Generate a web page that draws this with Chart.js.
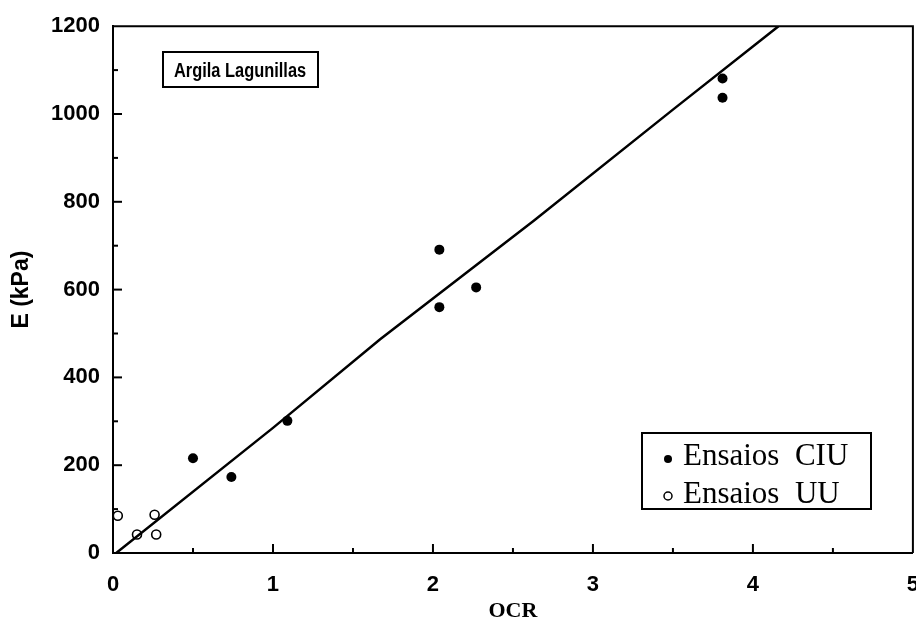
<!DOCTYPE html>
<html>
<head>
<meta charset="utf-8">
<script src="https://cdn.jsdelivr.net/npm/chart.js@4.4.1/dist/chart.umd.min.js"></script>
<style>
  html, body { margin: 0; padding: 0; background: #fff; overflow: hidden; }
  /* a bit wider than the window so the "5" label can hang off the edge */
  #wrap { width: 919px; height: 630px; }
</style>
</head>
<body>
<div id="wrap"><canvas id="chart"></canvas></div>
<script>
// data
const ciuOCR = [0.50, 0.74, 1.09, 2.04, 2.04, 2.27, 3.81, 3.81];
const ciuE   = [216, 173, 301, 691, 560, 605, 1081, 1037];
const uuOCR  = [0.03, 0.15, 0.26, 0.27];
const uuE    = [85, 42, 87, 42];
const fitOCR = [0.02, 1.00, 1.67, 2.63, 3.50, 4.16];
const fitE   = [0, 285, 487, 757, 1010, 1200];

const xTicks = [0, 1, 2, 3, 4, 5];
const yTicks = [0, 200, 400, 600, 800, 1000, 1200];

const toXY = (xs, ys) => xs.map((x, i) => ({ x: x, y: ys[i] }));

// inner tick marks, box frame, label box and legend
const decor = {
    id: 'decor',
    afterDraw(chart) {
        const c = chart.ctx;
        const a = chart.chartArea;
        const xs = chart.scales.x, ys = chart.scales.y;
        c.save();
        c.strokeStyle = '#000';
        c.lineWidth = 2;
        // top + right frame
        c.beginPath();
        c.moveTo(a.left, a.top); c.lineTo(a.right, a.top); c.lineTo(a.right, a.bottom);
        c.stroke();

        // ticks pointing inward
        for (let v = 0.5; v < 5; v += 0.5) {
            const px = xs.getPixelForValue(v);
            const len = Number.isInteger(v) ? 9 : 5;
            c.beginPath(); c.moveTo(px, a.bottom); c.lineTo(px, a.bottom - len); c.stroke();
        }
        for (let v = 100; v < 1200; v += 100) {
            const py = ys.getPixelForValue(v);
            const len = v % 200 === 0 ? 9 : 5;
            c.beginPath(); c.moveTo(a.left, py); c.lineTo(a.left + len, py); c.stroke();
        }

        // "Argila Lagunillas" box
        c.strokeRect(163, 52, 155, 35);
        c.fillStyle = '#000';
        c.font = 'bold 20px "Liberation Sans", Arial, sans-serif';
        c.textBaseline = 'alphabetic';
        c.textAlign = 'left';
        c.save();
        c.translate(174, 77);
        c.scale(0.82, 1);
        c.fillText('Argila Lagunillas', 0, 0);
        c.restore();

        // legend
        c.strokeRect(642, 433, 229, 76);
        c.font = '31px "Liberation Serif", "Times New Roman", serif';
        c.fillText('Ensaios  CIU', 683, 465);
        c.fillText('Ensaios  UU', 683, 503);
        c.beginPath(); c.arc(668, 459, 4, 0, Math.PI * 2); c.fill();
        c.lineWidth = 1.5;
        c.beginPath(); c.arc(668, 496, 4, 0, Math.PI * 2); c.stroke();
        c.restore();
    }
};

new Chart(document.getElementById('chart'), {
    type: 'scatter',
    data: {
        datasets: [
            {
                label: 'Ajuste',
                type: 'line',
                data: toXY(fitOCR, fitE),
                borderColor: '#000',
                borderWidth: 2.5,
                pointRadius: 0,
                fill: false,
                tension: 0
            },
            {
                label: 'Ensaios CIU',
                data: toXY(ciuOCR, ciuE),
                pointRadius: 5,
                backgroundColor: '#000',
                borderColor: '#000',
                borderWidth: 0
            },
            {
                label: 'Ensaios UU',
                data: toXY(uuOCR, uuE),
                pointRadius: 4.5,
                backgroundColor: 'rgba(0,0,0,0)',
                borderColor: '#000',
                borderWidth: 1.6
            }
        ]
    },
    options: {
        responsive: true,
        maintainAspectRatio: false,
        animation: false,
        events: [],
        layout: { padding: { left: 0, top: 25, right: 0, bottom: 0 } },
        plugins: { legend: { display: false }, tooltip: { enabled: false } },
        scales: {
            x: {
                type: 'linear',
                min: 0, max: 5,
                afterBuildTicks: s => { s.ticks = xTicks.map(v => ({ value: v })); },
                afterFit: s => { s.height = 77; s.paddingLeft = 0; s.paddingRight = 0; },
                grid: { display: false, drawTicks: false },
                border: { display: true, color: '#000', width: 2 },
                ticks: {
                    color: '#000',
                    padding: 19,
                    callback: v => String(v),
                    font: { family: '"Liberation Sans", Arial, sans-serif', size: 22, weight: 'bold' }
                },
                title: {
                    display: true,
                    text: 'OCR',
                    color: '#000',
                    padding: { top: 0, bottom: 5 },
                    font: { family: '"Liberation Serif", "Times New Roman", serif', size: 22, weight: 'bold' }
                }
            },
            y: {
                type: 'linear',
                min: 0, max: 1200,
                afterBuildTicks: s => { s.ticks = yTicks.map(v => ({ value: v })); },
                afterFit: s => { s.width = 113; },
                grid: { display: false, drawTicks: false },
                border: { display: true, color: '#000', width: 2 },
                ticks: {
                    color: '#000',
                    padding: 13,
                    callback: v => String(v),
                    font: { family: '"Liberation Sans", Arial, sans-serif', size: 22, weight: 'bold' }
                },
                title: {
                    display: true,
                    text: 'E (kPa)',
                    color: '#000',
                    padding: { top: 8, bottom: 0 },
                    font: { family: '"Liberation Sans", Arial, sans-serif', size: 23, weight: 'bold' }
                }
            }
        }
    },
    plugins: [decor]
});
</script>
</body>
</html>
